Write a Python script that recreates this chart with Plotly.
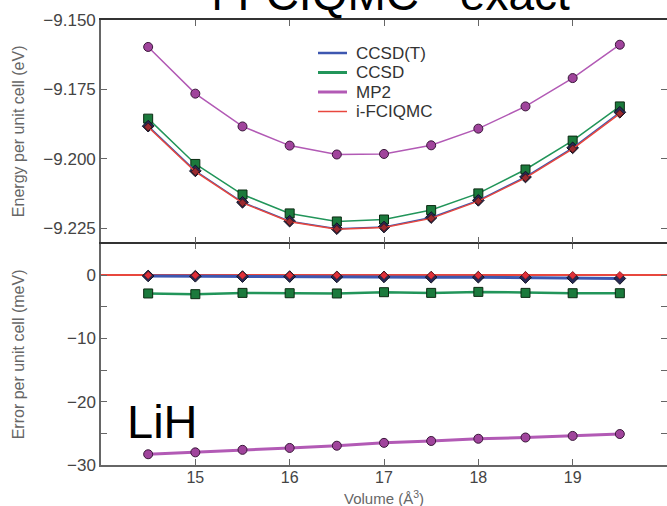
import plotly.graph_objects as go

# ---------------- data ----------------
volume = [14.5, 15.0, 15.5, 16.0, 16.5, 17.0, 17.5, 18.0, 18.5, 19.0, 19.5]

# Energy per unit cell (eV)
e_mp2 = [-9.1597, -9.1765, -9.1883, -9.1952, -9.1984, -9.1982, -9.1951, -9.1891, -9.1811, -9.1709, -9.1589]
e_ccsd = [-9.1855, -9.2018, -9.2128, -9.2196, -9.2225, -9.2218, -9.2184, -9.2124, -9.2038, -9.1934, -9.1811]
e_ccsdt = [-9.1882, -9.2043, -9.2156, -9.2224, -9.2251, -9.2245, -9.2211, -9.2149, -9.2065, -9.1960, -9.1832]
e_fciqmc = [-9.1885, -9.2046, -9.2158, -9.2226, -9.2253, -9.2247, -9.2214, -9.2152, -9.2068, -9.1964, -9.1837]

# Error per unit cell (meV)
err_mp2 = [-28.3, -28.0, -27.6, -27.3, -26.95, -26.5, -26.2, -25.85, -25.65, -25.4, -25.1]
err_ccsd = [-2.87, -2.98, -2.78, -2.83, -2.87, -2.67, -2.78, -2.62, -2.78, -2.83, -2.83]
err_ccsdt = [-0.1, -0.15, -0.2, -0.2, -0.25, -0.25, -0.3, -0.3, -0.35, -0.4, -0.5]
err_fciqmc = [0, 0, 0, 0, 0, 0, 0, 0, 0, 0, 0]

series_names = ["CCSD(T)", "CCSD", "MP2", "i-FCIQMC"]
energy_ticks = [-9.225, -9.200, -9.175, -9.150]
error_ticks = [0, -10, -20, -30]
x_ticks = [15, 16, 17, 18, 19]

# ---------------- styles ----------------
C_T = "#3d57b0"
C_CCSD = "#22955a"
C_MP2 = "#b25ab5"
C_FCI = "#e8473e"
FONT = "Liberation Sans, Arial, sans-serif"
AX = "#666666"
DIV = "#333333"
TICKC = "#444444"

W, H = 667, 506
def py(px):
    return 1 - px / H
def pxx(px):
    return px / W

fig = go.Figure()

# upper panel (x2, y)
fig.add_trace(go.Scatter(x=volume, y=e_mp2, mode="lines+markers", xaxis="x2", yaxis="y", showlegend=False,
                         line=dict(color=C_MP2, width=1.5),
                         marker=dict(symbol="circle", size=9, color="#a0449c", line=dict(color="#3a173a", width=1))))
fig.add_trace(go.Scatter(x=volume, y=e_ccsd, mode="lines+markers", xaxis="x2", yaxis="y", showlegend=False,
                         line=dict(color=C_CCSD, width=1.5),
                         marker=dict(symbol="square", size=9, color="#1b7a3c", line=dict(color="#0b2a12", width=1))))
fig.add_trace(go.Scatter(x=volume, y=e_ccsdt, mode="lines+markers", xaxis="x2", yaxis="y", showlegend=False,
                         line=dict(color=C_T, width=1.5),
                         marker=dict(symbol="diamond", size=9, color="#262a55", line=dict(color="#111122", width=1))))
fig.add_trace(go.Scatter(x=volume, y=e_fciqmc, mode="lines+markers", xaxis="x2", yaxis="y", showlegend=False,
                         line=dict(color=C_FCI, width=1.5),
                         marker=dict(symbol="diamond", size=6, color="#9a2a30", line=dict(color="#3a1010", width=0.8))))

# lower panel (x, y2)
fig.add_trace(go.Scatter(x=volume, y=err_mp2, mode="lines+markers", xaxis="x", yaxis="y2", showlegend=False,
                         line=dict(color=C_MP2, width=3),
                         marker=dict(symbol="circle", size=9, color="#a0449c", line=dict(color="#3a173a", width=1))))
fig.add_trace(go.Scatter(x=volume, y=err_ccsd, mode="lines+markers", xaxis="x", yaxis="y2", showlegend=False,
                         line=dict(color=C_CCSD, width=2.5),
                         marker=dict(symbol="square", size=9, color="#1b7a3c", line=dict(color="#0b2a12", width=1))))
fig.add_trace(go.Scatter(x=volume, y=err_ccsdt, mode="lines+markers", xaxis="x", yaxis="y2", showlegend=False,
                         line=dict(color=C_T, width=3),
                         marker=dict(symbol="diamond", size=9, color="#262a55", line=dict(color="#111122", width=1))))
fig.add_trace(go.Scatter(x=volume, y=err_fciqmc, mode="markers", xaxis="x", yaxis="y2", showlegend=False,
                         marker=dict(symbol="diamond", size=6, color="#e0303a", line=dict(color="#7a1a1a", width=0.6))))

common_x = dict(range=[14, 20], domain=[pxx(101), 1.0], showline=True, linewidth=1.5,
                mirror="ticks", ticks="inside", ticklen=6, tickcolor=AX, tickvals=x_ticks,
                showgrid=False, zeroline=False, automargin=False)

# manual legend (line sample + label)
legend_rows = [53, 72.5, 92, 111.5]
legend_cols = [C_T, C_CCSD, C_MP2, C_FCI]
legend_w = [2.5, 3, 3, 1.5]
shapes = []
annotations = []
for name, col, w, yy in zip(series_names, legend_cols, legend_w, legend_rows):
    shapes.append(dict(type="line", xref="paper", yref="paper", x0=pxx(318), x1=pxx(347),
                       y0=py(yy), y1=py(yy), line=dict(color=col, width=w)))
    annotations.append(dict(text=name, x=pxx(354), y=py(yy), xref="paper", yref="paper",
                            xanchor="left", yanchor="middle", showarrow=False,
                            font=dict(size=17, color="#333333")))

annotations += [
    dict(text="Energy per unit cell (eV)", x=pxx(18), y=0.5, xref="paper", yref="y domain",
         textangle=-90, xanchor="center", yanchor="middle", showarrow=False, font=dict(size=16, color=AX)),
    dict(text="Error per unit cell (meV)", x=pxx(18), y=0.5, xref="paper", yref="y2 domain",
         textangle=-90, xanchor="center", yanchor="middle", showarrow=False, font=dict(size=16, color=AX)),
    dict(text="Volume (Å<sup>3</sup>)", x=0.5, y=py(497), xref="x domain", yref="paper",
         xanchor="center", yanchor="middle", showarrow=False, font=dict(size=15, color=AX)),
    dict(text="i-FCIQMC - exact", x=pxx(572), y=py(10), xref="paper", yref="paper",
         xanchor="right", yanchor="bottom", yshift=-12, showarrow=False, font=dict(size=46, color="black")),
    dict(text="LiH", x=pxx(125), y=py(421), xref="paper", yref="paper",
         xanchor="left", yanchor="middle", showarrow=False, font=dict(size=47, color="black")),
]

fig.update_layout(
    width=W, height=H,
    margin=dict(l=0, r=0, t=0, b=0, autoexpand=False),
    paper_bgcolor="white", plot_bgcolor="white",
    font=dict(family=FONT, size=17, color=TICKC),
    showlegend=False,
    xaxis=dict(**common_x, anchor="y2", linecolor=AX, tickfont=dict(size=16, color=TICKC),
               ticklabelstandoff=-3),
    xaxis2=dict(**common_x, anchor="y", matches="x", linecolor=DIV, showticklabels=False),
    yaxis=dict(domain=[py(242.3), py(20)], range=[-9.230, -9.150], anchor="x2",
               tickvals=energy_ticks, tickformat=".3f", showline=True, linecolor=AX, linewidth=1.5,
               mirror="ticks", ticks="inside", ticklen=6, tickcolor=AX, showgrid=False, zeroline=False,
               ticklabelstandoff=0, tickfont=dict(size=17, color=TICKC), automargin=False),
    yaxis2=dict(domain=[py(465), py(243.7)], range=[-30, 5], anchor="x",
                tickvals=error_ticks, showline=True, linecolor=AX, linewidth=1.5,
                mirror="ticks", ticks="inside", ticklen=6, tickcolor=AX, showgrid=False,
                minor=dict(dtick=5, ticks="inside", ticklen=6, tickcolor=AX, showgrid=False),
                zeroline=True, zerolinecolor=C_FCI, zerolinewidth=1.5,
                ticklabelstandoff=0, tickfont=dict(size=17, color=TICKC), automargin=False),
    shapes=shapes,
    annotations=annotations,
)

fig.write_html("out.html")
